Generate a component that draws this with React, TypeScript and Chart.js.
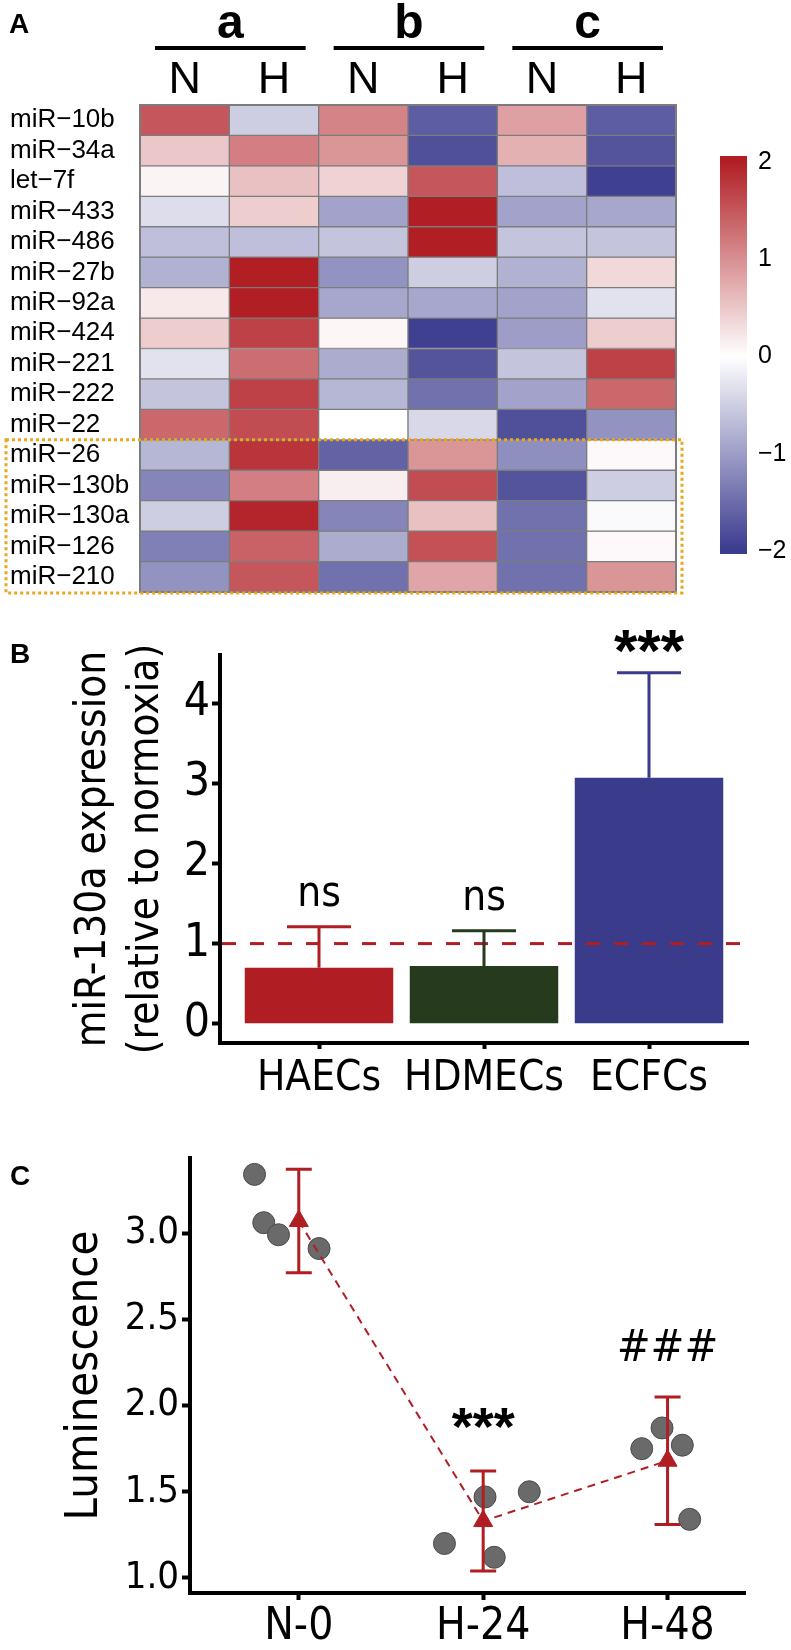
import React, { useEffect, useRef } from 'react';
import Chart from 'chart.js/auto';

const ARIAL = "'Liberation Sans', Arial, Helvetica, sans-serif";
const NARROW = "'Liberation Sans Narrow', 'Arial Narrow', 'DejaVu Sans Condensed', 'Liberation Sans', sans-serif";

const HIGH = [177, 31, 37];
const LOW = [59, 59, 143];

// ---------------- Panel A data ----------------
const rowNames = ['miR\u221210b', 'miR\u221234a', 'let\u22127f', 'miR\u2212433', 'miR\u2212486', 'miR\u221227b', 'miR\u221292a', 'miR\u2212424', 'miR\u2212221', 'miR\u2212222', 'miR\u221222', 'miR\u221226', 'miR\u2212130b', 'miR\u2212130a', 'miR\u2212126', 'miR\u2212210'];
const colLabels = ['N', 'H', 'N', 'H', 'N', 'H'];
const groupLabels = ['a', 'b', 'c'];
const aN = [1.5, 0.5, 0.1, -0.35, -0.65, -0.8, 0.2, 0.45, -0.3, -0.6, 1.35, -0.75, -1.25, -0.5, -1.3, -1.1];
const aH = [-0.5, 1.15, 0.55, 0.45, -0.65, 2.0, 2.0, 1.7, 1.3, 1.7, 1.6, 1.8, 1.15, 1.95, 1.4, 1.5];
const bN = [1.1, 0.95, 0.4, -0.95, -0.6, -1.1, -0.9, 0.08, -0.85, -0.75, 0.0, -1.6, 0.15, -1.25, -0.85, -1.45];
const bH = [-1.65, -1.8, 1.5, 2.0, 2.0, -0.5, -0.9, -1.95, -1.75, -1.45, -0.4, 0.95, 1.6, 0.55, 1.55, 0.8];
const cN = [0.85, 0.7, -0.65, -0.95, -0.6, -0.8, -0.95, -1.0, -0.6, -0.95, -1.8, -1.15, -1.75, -1.45, -1.45, -1.45];
const cH = [-1.65, -1.75, -1.95, -0.9, -0.6, 0.35, -0.3, 0.45, 1.7, 1.35, -1.1, 0.05, -0.5, -0.05, 0.05, 0.95];
const heatCols = [aN, aH, bN, bH, cN, cH];
const highlightFrom = 'miR\u221226';
const highlightTo = 'miR\u2212210';
const colorbarTicks = [-2, -1, 0, 1, 2];
const colorbarLimits = [-2.03, 2.06];

// ---------------- Panel B data ----------------
const cellTypes = ['HAECs', 'HDMECs', 'ECFCs'];
const exprMean = [0.70, 0.72, 3.07];
const exprUpper = [1.21, 1.16, 4.38];
const exprSig = ['ns', 'ns', '***'];
const normoxiaLevel = 1;
const exprTicks = [0, 1, 2, 3, 4];

// ---------------- Panel C data ----------------
const timeGroups = ['N-0', 'H-24', 'H-48'];
const n0Vals = [3.34, 3.06, 2.99, 2.91];
const n0Jitter = [-0.24, -0.19, -0.11, 0.11];
const h24Vals = [1.20, 1.47, 1.12, 1.50];
const h24Jitter = [-0.21, 0.01, 0.06, 0.25];
const h48Vals = [1.75, 1.87, 1.77, 1.34];
const h48Jitter = [-0.14, -0.03, 0.08, 0.12];
const lumMean = [3.07, 1.33, 1.68];
const lumErr = [0.30, 0.29, 0.37];
const lumSig = ['', '***', '###'];
const lumTicks = [1.0, 1.5, 2.0, 2.5, 3.0];

function heatColor(v: number) {
  const t = Math.max(-1, Math.min(1, v / 2));
  const end = t >= 0 ? HIGH : LOW;
  const a = Math.abs(t);
  const c = end.map((e) => Math.round(255 + (e - 255) * a));
  return `rgb(${c[0]},${c[1]},${c[2]})`;
}

function textBottom(ctx: CanvasRenderingContext2D, text: string, x: number, bottom: number, font: string) {
  ctx.font = font;
  ctx.textAlign = 'center';
  ctx.textBaseline = 'alphabetic';
  const m = ctx.measureText(text);
  ctx.fillText(text, x, bottom - m.actualBoundingBoxDescent);
}

function panelLetter(ctx: CanvasRenderingContext2D, letter: string, x: number, y: number) {
  ctx.save();
  ctx.fillStyle = '#000';
  ctx.font = `bold 28px ${ARIAL}`;
  ctx.textAlign = 'left';
  ctx.textBaseline = 'alphabetic';
  ctx.fillText(letter, x, y);
  ctx.restore();
}

function makeHeatmap(): any {
  const datasets = rowNames.map((name, i) => ({
    label: name,
    data: colLabels.map(() => 1),
    backgroundColor: heatCols.map((col) => heatColor(col[i])),
    borderColor: '#7c7c7c',
    borderWidth: 1,
    borderSkipped: false,
    categoryPercentage: 1,
    barPercentage: 1,
    stack: 'heat',
  }));
  const deco = {
    id: 'heatDeco',
    afterDatasetsDraw(chart: any) {
      const { ctx, chartArea } = chart;
      const xs = chart.scales.x;
      const ys = chart.scales.y;
      ctx.save();
      ctx.strokeStyle = '#7c7c7c';
      ctx.lineWidth = 2;
      ctx.strokeRect(chartArea.left, chartArea.top, chartArea.right - chartArea.left, chartArea.bottom - chartArea.top);
      const colW = xs.getPixelForValue(1) - xs.getPixelForValue(0);
      groupLabels.forEach((g, gi) => {
        const x0 = xs.getPixelForValue(gi * 2) - colW / 2 + 15;
        const x1 = xs.getPixelForValue(gi * 2 + 1) + colW / 2 - 13;
        ctx.strokeStyle = '#000';
        ctx.lineWidth = 4;
        ctx.beginPath();
        ctx.moveTo(x0, 48);
        ctx.lineTo(x1, 48);
        ctx.stroke();
        ctx.fillStyle = '#000';
        ctx.font = `bold 48px ${ARIAL}`;
        ctx.textAlign = 'center';
        ctx.textBaseline = 'alphabetic';
        ctx.fillText(g, (x0 + x1) / 2, 38);
      });
      const r0 = rowNames.indexOf(highlightFrom);
      const r1 = rowNames.indexOf(highlightTo) + 1;
      const y0 = ys.getPixelForValue(r0);
      const y1 = ys.getPixelForValue(r1) + 1;
      ctx.strokeStyle = '#E8A81E';
      ctx.lineWidth = 3;
      ctx.setLineDash([3, 3]);
      ctx.strokeRect(6, y0, chartArea.right, y1 - y0);
      ctx.setLineDash([]);
      ctx.restore();
      panelLetter(ctx, 'A', 9, 33);
    },
  };
  return {
    type: 'bar',
    data: { labels: colLabels, datasets },
    options: {
      responsive: false,
      maintainAspectRatio: false,
      animation: false,
      devicePixelRatio: 1,
      layout: { padding: { left: 10, right: 24, top: 0, bottom: 18 } },
      plugins: { legend: { display: false }, tooltip: { enabled: false } },
      scales: {
        x: {
          type: 'category',
          position: 'top',
          stacked: true,
          grid: { display: false, drawTicks: false },
          border: { display: false },
          ticks: { font: { family: ARIAL, size: 45, lineHeight: 1 }, color: '#000', padding: 2, maxRotation: 0, autoSkip: false },
          afterFit: (s: any) => { s.height = 105; },
        },
        y: { type: 'linear', stacked: true, reverse: true, min: 0, max: rowNames.length, display: false },
        yl: {
          type: 'category',
          axis: 'y',
          labels: rowNames,
          offset: true,
          position: 'left',
          grid: { display: false, drawTicks: false },
          border: { display: false },
          ticks: { crossAlign: 'far', font: { family: ARIAL, size: 26 }, color: '#000', autoSkip: false, padding: 0 },
          afterFit: (s: any) => { s.width = 130; },
        },
      },
    },
    plugins: [deco],
  };
}

function makeColorbar(): any {
  return {
    type: 'bar',
    data: {
      labels: [''],
      datasets: [{
        data: [colorbarLimits],
        borderWidth: 0,
        categoryPercentage: 1,
        barPercentage: 1,
        backgroundColor: (c: any) => {
          const chart = c.chart;
          const ys = chart.scales && chart.scales.y;
          if (!ys || !chart.chartArea) return '#fff';
          const g = chart.ctx.createLinearGradient(0, ys.getPixelForValue(2), 0, ys.getPixelForValue(-2));
          g.addColorStop(0, heatColor(2));
          g.addColorStop(0.5, heatColor(0));
          g.addColorStop(1, heatColor(-2));
          return g;
        },
      }],
    },
    options: {
      responsive: false,
      maintainAspectRatio: false,
      animation: false,
      devicePixelRatio: 1,
      layout: { padding: { left: 20, right: 0, top: 23, bottom: 22 } },
      plugins: { legend: { display: false }, tooltip: { enabled: false } },
      scales: {
        x: { display: false },
        y: {
          position: 'right',
          min: colorbarLimits[0],
          max: colorbarLimits[1],
          grid: { display: false, drawTicks: false },
          border: { display: false },
          ticks: {
            font: { family: ARIAL, size: 25 },
            color: '#000',
            padding: 11,
            callback: (v: number) => (v < 0 ? '\u2212' + Math.abs(v) : String(v)),
          },
          afterBuildTicks: (s: any) => { s.ticks = colorbarTicks.map((v) => ({ value: v })); },
          afterFit: (s: any) => { s.width = 44; },
        },
      },
    },
  };
}

const barColors = ['#B01E24', '#263A1E', '#3A3C8B'];

function makeBars(): any {
  const deco = {
    id: 'barDeco',
    afterDatasetsDraw(chart: any) {
      const { ctx, chartArea } = chart;
      const xs = chart.scales.x;
      const ys = chart.scales.y;
      ctx.save();
      const yr = ys.getPixelForValue(normoxiaLevel);
      ctx.strokeStyle = '#B01E24';
      ctx.lineWidth = 3;
      ctx.setLineDash([14, 14]);
      ctx.beginPath();
      ctx.moveTo(chartArea.left + 2, yr);
      ctx.lineTo(chartArea.right, yr);
      ctx.stroke();
      ctx.setLineDash([]);
      cellTypes.forEach((_, i) => {
        const x = xs.getPixelForValue(i + 1);
        const yb = ys.getPixelForValue(exprMean[i]);
        const yt = ys.getPixelForValue(exprUpper[i]);
        ctx.strokeStyle = barColors[i];
        ctx.lineWidth = 3;
        ctx.beginPath();
        ctx.moveTo(x, yb);
        ctx.lineTo(x, yt);
        ctx.moveTo(x - 32, yt);
        ctx.lineTo(x + 32, yt);
        ctx.stroke();
        ctx.fillStyle = '#000';
        const s = exprSig[i];
        const font = s === '***' ? `bold 60px ${ARIAL}` : `42px ${NARROW}`;
        textBottom(ctx, s, x, yt - 20, font);
      });
      ctx.restore();
      panelLetter(ctx, 'B', 10, 43);
    },
  };
  return {
    type: 'bar',
    data: {
      datasets: [{
        data: cellTypes.map((_, i) => ({ x: i + 1, y: exprMean[i] })),
        backgroundColor: barColors,
        categoryPercentage: 0.9,
        barPercentage: 1,
        borderWidth: 0,
      }],
    },
    options: {
      responsive: false,
      maintainAspectRatio: false,
      animation: false,
      devicePixelRatio: 1,
      layout: { padding: { left: 0, right: 43, top: 35, bottom: 0 } },
      plugins: { legend: { display: false }, tooltip: { enabled: false } },
      scales: {
        x: {
          type: 'linear',
          offset: false,
          min: 0.4,
          max: 3.6,
          grid: { display: true, offset: false, drawOnChartArea: false, tickLength: 6, tickWidth: 4, tickColor: '#000' },
          border: { color: '#000', width: 4 },
          ticks: { font: { family: NARROW, size: 42, lineHeight: 1 }, color: '#000', padding: 9, maxRotation: 0, autoSkip: false, callback: (_v: any, i: number) => cellTypes[i] },
          afterBuildTicks: (s: any) => { s.ticks = cellTypes.map((_, i) => ({ value: i + 1 })); },
          afterFit: (s: any) => { s.height = 77; },
        },
        y: {
          min: -0.24,
          max: 4.6,
          grid: { display: true, drawOnChartArea: false, tickLength: 8, tickWidth: 4, tickColor: '#000' },
          border: { color: '#000', width: 4 },
          ticks: { font: { family: NARROW, size: 46 }, color: '#000', padding: 2 },
          afterBuildTicks: (s: any) => { s.ticks = exprTicks.map((v) => ({ value: v })); },
          title: {
            display: true,
            text: ['miR-130a expression', '(relative to normoxia)'],
            font: { family: NARROW, size: 42, lineHeight: 1.25 },
            color: '#000',
            padding: { top: 68, bottom: 0 },
          },
          afterFit: (s: any) => { s.width = 220; },
        },
      },
    },
    plugins: [deco],
  };
}

function makeScatter(): any {
  const groups = [
    { vals: n0Vals, jit: n0Jitter },
    { vals: h24Vals, jit: h24Jitter },
    { vals: h48Vals, jit: h48Jitter },
  ];
  const pts: any[] = [];
  groups.forEach((g, gi) => g.vals.forEach((v, k) => pts.push({ x: gi + 1 + g.jit[k], y: v })));
  const deco = {
    id: 'scDeco',
    afterDatasetsDraw(chart: any) {
      const { ctx } = chart;
      const xs = chart.scales.x;
      const ys = chart.scales.y;
      ctx.save();
      timeGroups.forEach((_, i) => {
        const x = xs.getPixelForValue(i + 1);
        const yt = ys.getPixelForValue(lumMean[i] + lumErr[i]);
        const yb = ys.getPixelForValue(lumMean[i] - lumErr[i]);
        ctx.strokeStyle = '#B01E24';
        ctx.lineWidth = 3;
        ctx.beginPath();
        ctx.moveTo(x, yt);
        ctx.lineTo(x, yb);
        ctx.moveTo(x - 13, yt);
        ctx.lineTo(x + 13, yt);
        ctx.moveTo(x - 13, yb);
        ctx.lineTo(x + 13, yb);
        ctx.stroke();
        const s = lumSig[i];
        if (s) {
          ctx.fillStyle = '#000';
          const isStar = s === '***';
          const font = isStar ? `bold 54px ${ARIAL}` : `45px ${NARROW}`;
          textBottom(ctx, s, x, yt - (isStar ? 42 : 36), font);
        }
      });
      ctx.restore();
      panelLetter(ctx, 'C', 10, 65);
    },
  };
  return {
    type: 'scatter',
    data: {
      datasets: [
        {
          type: 'line',
          data: timeGroups.map((_, i) => ({ x: i + 1, y: lumMean[i] })),
          borderColor: '#B01E24',
          borderWidth: 2,
          borderDash: [8, 6],
          pointStyle: 'triangle',
          pointRadius: 11,
          pointBackgroundColor: '#B01E24',
          pointBorderColor: '#B01E24',
          pointBorderWidth: 1,
          fill: false,
          tension: 0,
        },
        {
          data: pts,
          pointRadius: 11,
          backgroundColor: '#6A6A6A',
          borderColor: '#4A4A4A',
          borderWidth: 1,
        },
      ],
    },
    options: {
      responsive: false,
      maintainAspectRatio: false,
      animation: false,
      devicePixelRatio: 1,
      layout: { padding: { left: 0, right: 46, top: 38, bottom: 0 } },
      plugins: { legend: { display: false }, tooltip: { enabled: false } },
      scales: {
        x: {
          type: 'linear',
          offset: false,
          min: 0.41,
          max: 3.42,
          grid: { display: true, drawOnChartArea: false, tickLength: 7, tickWidth: 4, tickColor: '#000' },
          border: { color: '#000', width: 4 },
          ticks: { font: { family: NARROW, size: 44, lineHeight: 1 }, color: '#000', padding: 6, maxRotation: 0, autoSkip: false, callback: (_v: any, i: number) => timeGroups[i] },
          afterBuildTicks: (s: any) => { s.ticks = timeGroups.map((_, i) => ({ value: i + 1 })); },
          afterFit: (s: any) => { s.height = 57; },
        },
        y: {
          min: 0.913,
          max: 3.435,
          grid: { display: true, drawOnChartArea: false, tickLength: 8, tickWidth: 4, tickColor: '#000' },
          border: { color: '#000', width: 4 },
          ticks: { font: { family: NARROW, size: 38 }, color: '#000', padding: 3, callback: (v: number) => v.toFixed(1) },
          afterBuildTicks: (s: any) => { s.ticks = lumTicks.map((v) => ({ value: v })); },
          title: {
            display: true,
            text: 'Luminescence',
            font: { family: NARROW, size: 45, lineHeight: 1.2 },
            color: '#000',
            padding: { top: 58, bottom: 0 },
          },
          afterFit: (s: any) => { s.width = 190; },
        },
      },
    },
    plugins: [deco],
  };
}

function ChartCanvas({ left, top, width, height, make }: { left: number; top: number; width: number; height: number; make: () => any }) {
  const ref = useRef<HTMLCanvasElement>(null);
  useEffect(() => {
    const chart = new Chart(ref.current as HTMLCanvasElement, make());
    return () => chart.destroy();
  }, []);
  return (
    <canvas
      ref={ref}
      width={width}
      height={height}
      style={{ position: 'absolute', left, top, width, height }}
    />
  );
}

export default function App() {
  return (
    <div style={{ position: 'absolute', left: 0, top: 0, width: 791, height: 1650, background: '#fff', overflow: 'hidden' }}>
      <ChartCanvas left={0} top={0} width={700} height={610} make={makeHeatmap} />
      <ChartCanvas left={700} top={130} width={91} height={450} make={makeColorbar} />
      <ChartCanvas left={0} top={620} width={791} height={500} make={makeBars} />
      <ChartCanvas left={0} top={1120} width={791} height={530} make={makeScatter} />
    </div>
  );
}
